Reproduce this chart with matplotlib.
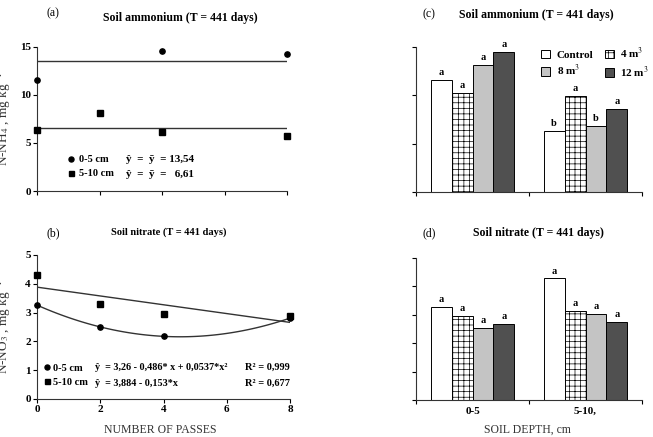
import numpy as np
import matplotlib
matplotlib.use('Agg')
import matplotlib.pyplot as plt
from matplotlib.lines import Line2D

plt.rcParams['font.family'] = ['Liberation Serif', 'DejaVu Serif']
plt.rcParams['mathtext.fontset'] = 'stix'
plt.rcParams['hatch.linewidth'] = 0.5

# (a)/(b) scatter data: number of passes
passes_05 = [0, 4, 8]
nh4_05 = [11.6, 14.6, 14.3]
passes_510 = [0, 2, 4, 8]
nh4_510 = [6.4, 8.1, 6.1, 5.7]
nh4_mean = [13.54, 6.61]

passes_no3 = [0, 2, 4, 8]
no3_05 = [3.25, 2.5, 2.2, 2.82]
no3_510 = [4.3, 3.3, 2.95, 2.88]
fit_05 = [0.0537, -0.486, 3.26]   # polyval order
fit_510 = [-0.153, 3.884]

# (c)/(d) bar data
depths = ['0-5', '5-10,']
doses = ['Control', '4 m$^3$', '8 m$^3$', '12 m$^3$']
nh4_bars = [[11.6, 6.35], [10.2, 9.9], [13.1, 6.8], [14.5, 8.6]]
nh4_letters = [['a', 'b'], ['a', 'a'], ['a', 'b'], ['a', 'a']]
no3_bars = [[3.27, 4.28], [2.96, 3.13], [2.53, 3.04], [2.67, 2.75]]
no3_letters = [['a', 'a'], ['a', 'a'], ['a', 'a'], ['a', 'a']]

bar_colors = ['white', 'white', '#c4c4c4', '#505050']
bar_hatch = [None, '+++', None, None]

W, H = 653, 437
fig = plt.figure(figsize=(W / 100, H / 100), dpi=100)


def px(l, t, r, b):
    return [l / W, 1 - b / H, (r - l) / W, (b - t) / H]


def style(ax):
    for s in ['top', 'right']:
        ax.spines[s].set_visible(False)
    for s in ['left', 'bottom']:
        ax.spines[s].set_linewidth(0.8)
        ax.spines[s].set_color('#333333')
    ax.tick_params(direction='out', length=3, width=0.8, labelsize=8, pad=1.5)
    for lab in ax.get_xticklabels() + ax.get_yticklabels():
        lab.set_fontweight('bold')


def markers():
    return [Line2D([], [], ls='', marker='o', color='black', ms=3.6),
            Line2D([], [], ls='', marker='s', color='black', ms=3.6)]


# ---- (a)
ax = fig.add_axes(px(37, 47, 287, 191))
ax.plot(passes_05, nh4_05, 'o', color='black', ms=3.8, clip_on=False, zorder=3)
ax.plot(passes_510, nh4_510, 's', color='black', ms=3.8, clip_on=False, zorder=3)
ax.hlines(nh4_mean, 0, 8, color='#333333', lw=1)
ax.set_xlim(0, 8)
ax.set_ylim(0, 15)
ax.set_xticks([0, 2, 4, 6, 8])
ax.set_xticklabels([])
ax.set_yticks([0, 5, 10, 15])
style(ax)
ax.legend(markers(), ['0-5 cm', '5-10 cm'], loc='center left',
          bbox_to_anchor=(0.105, 0.168), frameon=False, handlelength=0.5,
          handletextpad=0.5, labelspacing=0.45, borderpad=0,
          prop={'size': 7.5, 'weight': 'bold'})
ax.text(0.355, 0.22, 'ŷ  =  ȳ  = 13,54', transform=ax.transAxes, fontsize=8, fontweight='bold', va='center')
ax.text(0.355, 0.115, 'ŷ  =  ȳ  =   6,61', transform=ax.transAxes, fontsize=8, fontweight='bold', va='center')
fig.text(53 / W, 1 - 13 / H, '(a)', fontsize=8.5, ha='center', va='center')
fig.text(180 / W, 1 - 18 / H, 'Soil ammonium (T = 441 days)', fontsize=8.5,
         fontweight='bold', ha='center', va='center')
fig.text(4 / W, 1 - 119 / H, 'N-NH$_4$ , mg kg$^{-1}$', fontsize=9.5, rotation=90,
         ha='center', va='center', color='#333333')

# ---- (b)
ax = fig.add_axes(px(37, 255, 290, 399))
ax.plot(passes_no3, no3_05, 'o', color='black', ms=3.8, clip_on=False, zorder=3)
ax.plot(passes_no3, no3_510, 's', color='black', ms=3.8, clip_on=False, zorder=3)
xs = np.linspace(0, 8, 100)
ax.plot(xs, np.polyval(fit_05, xs), color='#333333', lw=1)
ax.plot(xs, np.polyval(fit_510, xs), color='#333333', lw=1)
ax.set_xlim(0, 8)
ax.set_ylim(0, 5)
ax.set_xticks([0, 2, 4, 6, 8])
ax.set_yticks([0, 1, 2, 3, 4, 5])
style(ax)
ax.legend(markers(), ['0-5 cm', '5-10 cm'], loc='center left',
          bbox_to_anchor=(0.008, 0.165), frameon=False, handlelength=0.5,
          handletextpad=0.35, labelspacing=0.5, borderpad=0,
          prop={'size': 7.5, 'weight': 'bold'})
ax.text(0.23, 0.22, 'ŷ  = 3,26 - 0,486* x + 0,0537*x²', transform=ax.transAxes,
        fontsize=7.3, fontweight='bold', va='center')
ax.text(0.23, 0.11, 'ŷ  = 3,884 - 0,153*x', transform=ax.transAxes,
        fontsize=7.3, fontweight='bold', va='center')
ax.text(1.0, 0.22, 'R² = 0,999', transform=ax.transAxes, fontsize=7.5,
        fontweight='bold', va='center', ha='right')
ax.text(1.0, 0.11, 'R² = 0,677', transform=ax.transAxes, fontsize=7.5,
        fontweight='bold', va='center', ha='right')
fig.text(160 / W, 1 - 430 / H, 'NUMBER OF PASSES', fontsize=8.5, ha='center',
         va='center', color='#333333')
fig.text(53 / W, 1 - 233 / H, '(b)', fontsize=8.5, ha='center', va='center')
fig.text(169 / W, 1 - 232 / H, 'Soil nitrate (T = 441 days)', fontsize=7.5,
         fontweight='bold', ha='center', va='center')
fig.text(4 / W, 1 - 327 / H, 'N-NO$_3$ , mg kg$^{-1}$', fontsize=9.5, rotation=90,
         ha='center', va='center', color='#333333')


def bars(ax, values, letters, ymax, lpad):
    x = np.arange(len(depths))
    bw = 0.185
    handles = []
    for i, (vals, lets) in enumerate(zip(values, letters)):
        off = (i - 1.5) * bw
        b = ax.bar(x + off, vals, bw, color=bar_colors[i], edgecolor='black',
                   hatch=bar_hatch[i], linewidth=0.7, label=doses[i])
        handles.append(b)
        for xi, v, l in zip(x + off, vals, lets):
            ax.text(xi, v + lpad, l, ha='center', va='bottom', fontsize=7.5, fontweight='bold')
    ax.set_xlim(-0.5, 1.5)
    ax.set_ylim(0, ymax)
    ax.set_xticks(x)
    ax.set_xticklabels(depths)
    ax.set_xticks([-0.5, 0.5, 1.5], minor=True)
    style(ax)
    ax.tick_params(axis='x', which='major', length=0, labelsize=8, pad=5)
    ax.tick_params(axis='x', which='minor', length=3, width=0.8, direction='out')
    ax.tick_params(axis='y', labelleft=False)
    return handles


# ---- (c)
ax = fig.add_axes(px(416, 47, 642, 192))
h = bars(ax, nh4_bars, nh4_letters, 15, 0.3)
ax.set_yticks([0, 5, 10, 15])
ax.set_xticklabels([])
ax.legend([h[0], h[2], h[1], h[3]], [doses[0], doses[2], doses[1], doses[3]],
          ncol=2, loc='upper left', bbox_to_anchor=(0.53, 1.045), frameon=False,
          handlelength=0.8, handleheight=0.8, handletextpad=0.6, columnspacing=1.0,
          labelspacing=0.3, borderpad=0, prop={'size': 8, 'weight': 'bold'})
fig.text(429 / W, 1 - 14 / H, '(c)', fontsize=8.5, ha='center', va='center')
fig.text(536 / W, 1 - 15 / H, 'Soil ammonium (T = 441 days)', fontsize=8.5,
         fontweight='bold', ha='center', va='center')

# ---- (d)
ax = fig.add_axes(px(416, 258, 642, 400))
bars(ax, no3_bars, no3_letters, 5, 0.1)
ax.set_yticks([0, 1, 2, 3, 4, 5])
for lab in ax.get_xticklabels():
    lab.set_fontweight('bold')
fig.text(527 / W, 1 - 430 / H, 'SOIL DEPTH, cm', fontsize=8.5, ha='center',
         va='center', color='#333333')
fig.text(429 / W, 1 - 233 / H, '(d)', fontsize=8.5, ha='center', va='center')
fig.text(538 / W, 1 - 233 / H, 'Soil nitrate (T = 441 days)', fontsize=8.5,
         fontweight='bold', ha='center', va='center')

fig.savefig('out.png', dpi=100)
